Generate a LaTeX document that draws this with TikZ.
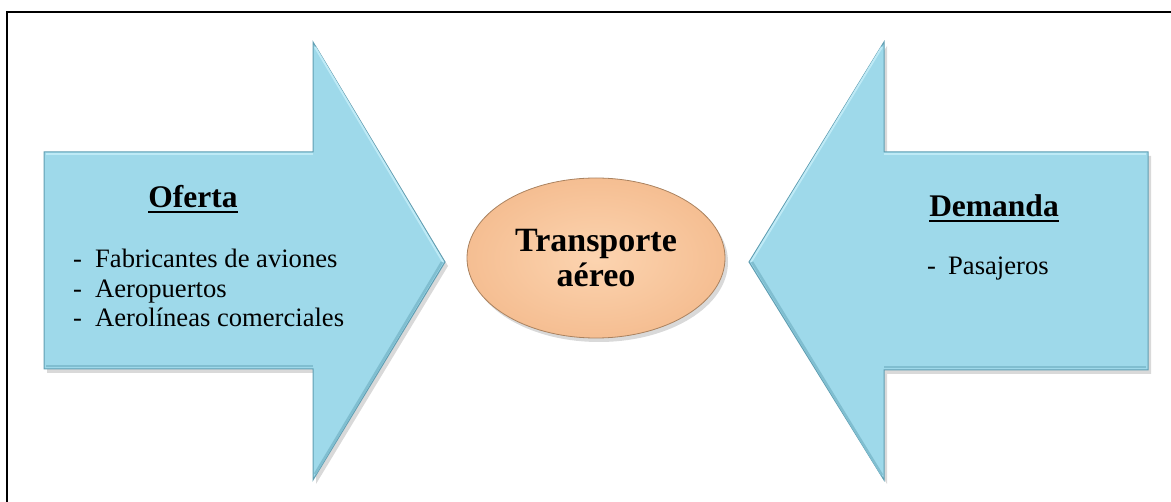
\documentclass[tikz,border=0pt]{standalone}
\usepackage{fontspec}
\setmainfont{Liberation Serif}
\usetikzlibrary{shapes.geometric,shadows}
\definecolor{arrowfill}{RGB}{158,217,234}
\definecolor{arrowedge}{RGB}{96,158,178}
\definecolor{arrowlight}{RGB}{190,234,246}
\definecolor{arrowdark}{RGB}{128,190,208}
\definecolor{peachin}{RGB}{252,212,176}
\definecolor{peachout}{RGB}{245,190,146}
\definecolor{peachedge}{RGB}{170,130,95}
\tikzset{
  bigarrow/.style={fill=arrowfill, draw=arrowedge, line width=1pt, line join=miter,
    drop shadow={shadow xshift=3pt, shadow yshift=-4pt, opacity=0.3}},
  bevel/.style={draw=arrowlight, line width=2pt},
  bevdark/.style={draw=arrowdark, line width=2.5pt},
  head/.style={font=\bfseries\fontsize{31.5}{36}\selectfont, inner sep=0pt},
  item/.style={font=\fontsize{26.6}{30}\selectfont, inner sep=0pt, anchor=base west},
  uline/.style={line width=2.6pt},
  center/.style={ellipse, minimum width=258pt, minimum height=160pt, inner sep=0pt,
    inner color=peachin, outer color=peachout, draw=peachedge, line width=0.8pt,
    align=center, font=\bfseries\fontsize{34}{35}\selectfont,
    drop shadow={shadow xshift=3pt, shadow yshift=-4pt, opacity=0.3}}
}
\begin{document}
\begin{tikzpicture}[x=1pt,y=-1pt]
\useasboundingbox (0,0) rectangle (1171,502);
\draw[line width=2pt] (1171,12) -- (7,12) -- (7,502);
% left arrow
\path[bigarrow] (44,152) -- (313,152) -- (313,42) -- (445,262) -- (313,480) -- (313,369) -- (44,369) -- cycle;
\draw[bevel] (46,154) -- (313,154);
\draw[bevel] (315,47) -- (443,262);
\draw[bevdark] (46,366) -- (313,366);
\draw[bevdark] (442,262) -- (315,474);
% right arrow
\path[bigarrow] (1148,152) -- (884,152) -- (884,42) -- (749,262) -- (884,480) -- (884,370) -- (1148,370) -- cycle;
\draw[bevel] (1146,154) -- (884,154);
\draw[bevel] (882,47) -- (751,262);
\draw[bevdark] (1146,367) -- (884,367);
\draw[bevdark] (752,262) -- (882,475);
% center
\node[center] (tr) at (596,258) {Transporte\\aéreo};
% left texts
\node[head, anchor=base] (of) at (193,208) {Oferta};
\draw[uline] ([yshift=-4pt]of.base west) -- ([yshift=-4pt]of.base east);
\node[item] (o1) at (73,268) {\makebox[22pt][l]{-}Fabricantes de aviones};
\node[item] (o2) at (73,298) {\makebox[22pt][l]{-}Aeropuertos};
\node[item] (o3) at (73,327) {\makebox[22pt][l]{-}Aerolíneas comerciales};
% right texts
\node[head, anchor=base] (de) at (994,217) {Demanda};
\draw[uline] ([yshift=-4pt]de.base west) -- ([yshift=-4pt]de.base east);
\node[item] (d1) at (927,275) {\makebox[21pt][l]{-}Pasajeros};
\end{tikzpicture}
\end{document}
